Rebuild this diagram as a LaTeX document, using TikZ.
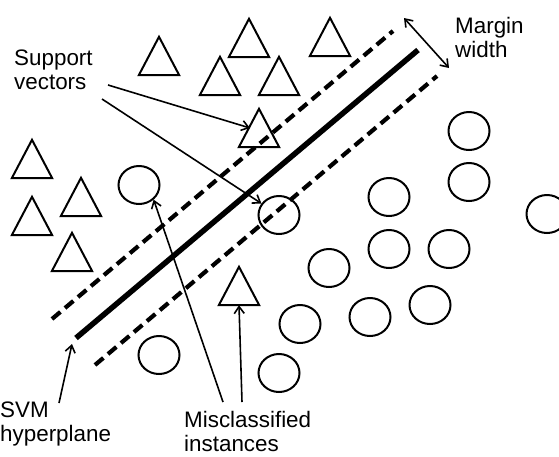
\documentclass[tikz,border=0pt]{standalone}
\usepackage{fontspec}
\setmainfont{Liberation Sans}
\usetikzlibrary{arrows.meta,shapes.geometric}
\tikzset{
  trinode/.style={inner sep=0pt, minimum width=40pt, minimum height=38pt},
  triline/.style={line width=2pt, line join=miter},
  circ/.style={draw, ellipse, line width=2pt, minimum width=41pt, minimum height=38pt, inner sep=0pt},
  arr/.style={line width=1.6pt, -{Straight Barb[length=7pt,width=10pt,line width=1.6pt]}},
  darr/.style={line width=1.6pt, {Straight Barb[length=7pt,width=10pt,line width=1.6pt]}-{Straight Barb[length=7pt,width=10pt,line width=1.6pt]}},
  hyper/.style={line width=5.5pt},
  marg/.style={line width=4.2pt, dash pattern=on 11pt off 6pt},
  lbl/.style={inner sep=0pt, anchor=north west, align=left, font=\fontsize{22.4}{24}\selectfont}
}
\newcommand{\tri}[3]{\node[trinode] (#1) at (#2,#3) {};
  \draw[triline] (#1.north) -- (#1.south west) -- (#1.south east) -- cycle;}
\begin{document}
\begin{tikzpicture}[x=1pt,y=-1pt]
\useasboundingbox (0,0) rectangle (559,456);
% triangles
\tri{t1}{159}{56}
\tri{t2}{249}{38}
\tri{t3}{220}{76}
\tri{t4}{279}{76}
\tri{t5}{330}{37}
\tri{sv1}{259}{128}
\tri{t6}{32}{159}
\tri{t7}{81}{197}
\tri{t8}{32}{216}
\tri{t9}{72}{252}
\tri{mt}{239}{286}
% circles
\node[circ] (mc) at (139,185) {};
\node[circ] (sv2) at (279,215) {};
\node[circ] (c1) at (469,131) {};
\node[circ] (c2) at (469,182) {};
\node[circ] (c3) at (389,197) {};
\node[circ] (c4) at (547,214) {};
\node[circ] (c5) at (389,249) {};
\node[circ] (c6) at (449,249) {};
\node[circ] (c7) at (329,268) {};
\node[circ] (c8) at (300,324) {};
\node[circ] (c9) at (370,317) {};
\node[circ] (c10) at (430,305) {};
\node[circ] (c11) at (279,373) {};
\node[circ] (c12) at (159,355) {};
% lines
\coordinate (h1) at (76,338);
\coordinate (h2) at (418,50);
\coordinate (u1) at (52,319);
\coordinate (u2) at (393,31);
\coordinate (l1) at (95,365);
\coordinate (l2) at (437,76);
\draw[hyper] (h1) -- (h2);
\draw[marg] (u1) -- (u2);
\draw[marg] (l1) -- (l2);
% labels
\node[lbl] (sup) at (14,50) {Support\\vectors};
\node[lbl] (mw) at (455,17) {Margin\\width};
\node[lbl] (svm) at (0,402) {SVM\\hyperplane};
\node[lbl] (mis) at (184,411) {Misclassified\\instances};
% arrows
\coordinate (s1) at (108,85);
\coordinate (s2) at (102,99);
\draw[arr] (s1) -- ([xshift=-9pt]sv1.center);
\draw[arr] (s2) -- (sv2);
\coordinate (m1) at (404,18);
\coordinate (m2) at (449,68);
\draw[darr] (m1) -- (m2);
\coordinate (sa) at (59,403);
\coordinate (sb) at (72,344);
\draw[arr] (sa) -- (sb);
\coordinate (ma) at (223,402);
\coordinate (mb) at (242,402);
\draw[arr] (ma) -- (mc.-45);
\draw[arr] (mb) -- (mt.south);
\end{tikzpicture}
\end{document}
